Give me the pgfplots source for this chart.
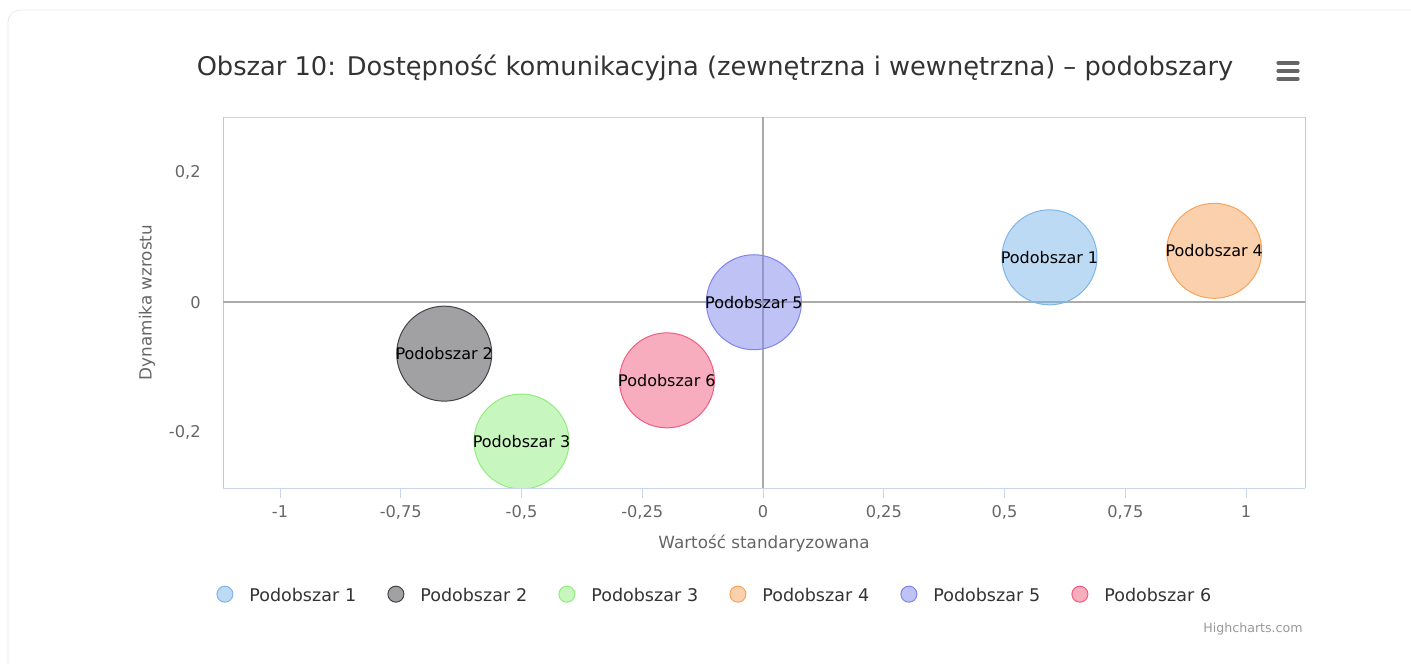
\documentclass[border=0pt]{standalone}
\usepackage{fontspec}
\setmainfont{DejaVu Sans}
\usepackage{pgfplots}
\pgfplotsset{compat=1.18}

% Highcharts default palette
\definecolor{c1}{HTML}{7CB5EC}
\definecolor{c2}{HTML}{434348}
\definecolor{c3}{HTML}{90ED7D}
\definecolor{c4}{HTML}{F7A35C}
\definecolor{c5}{HTML}{8085E9}
\definecolor{c6}{HTML}{F15C80}
\definecolor{labgray}{HTML}{666666}
\definecolor{titlegray}{HTML}{333333}
\definecolor{axisblue}{HTML}{CCD6EB}
\definecolor{bordergray}{HTML}{C8C8C8}
\definecolor{zerogray}{HTML}{ABABAB}
\definecolor{creditgray}{HTML}{999999}
\definecolor{cardgray}{HTML}{E8E8E8}

\pgfplotsset{
  bubble/.style={only marks, mark=*, mark size=23.75pt,
    mark options={draw=#1, fill=#1, fill opacity=0.5, line width=0.5pt},
    legend image code/.code={\draw[draw=#1, fill=#1, fill opacity=0.5, line width=0.5pt] (4pt,1pt) circle (4pt);}},
}

\begin{document}
\begin{tikzpicture}
% card outline
\draw[cardgray, rounded corners=6pt] (4pt,-20pt) rectangle (720pt,326.5pt);

\begin{axis}[
  at={(111.5pt,87.5pt)}, anchor=south west,
  scale only axis, width=541pt, height=185.5pt,
  xmin=-1.118, xmax=1.122, ymin=-0.2854, ymax=0.2846,
  clip marker paths=true,
  separate axis lines,
  x axis line style={draw=axisblue},
  y axis line style={draw=bordergray},
  xtick={-1,-0.75,-0.5,-0.25,0,0.25,0.5,0.75,1},
  xticklabels={-1,{-0,75},{-0,5},{-0,25},0,{0,25},{0,5},{0,75},1},
  ytick={-0.2,0,0.2},
  yticklabels={{-0,2},0,{0,2}},
  xtick pos=bottom, ytick pos=left,
  x tick style={draw=axisblue, line width=0.5pt},
  y tick style={draw=none},
  tick align=outside,
  major tick length=5pt,
  xticklabel style={font=\fontsize{8.1}{9.7}\selectfont, text=labgray, inner sep=0pt, anchor=center, yshift=-7pt},
  yticklabel style={font=\fontsize{8.1}{9.7}\selectfont, text=labgray, inner sep=0pt, anchor=east, xshift=-6pt},
  xlabel={Wartość standaryzowana},
  ylabel={Dynamika wzrostu},
  xlabel style={font=\fontsize{8.4}{10}\selectfont, text=labgray, at={(axis description cs:0.5,-0.1509)}, anchor=center},
  ylabel style={font=\fontsize{8.4}{10}\selectfont, text=labgray, at={(axis description cs:-0.0702,0.5)}, anchor=center},
  nodes near coords align=center,
  every node near coord/.append style={anchor=center, text=black, fill opacity=1, text opacity=1,
    font=\fontsize{8}{9.6}\selectfont, inner sep=0pt},
  legend columns=6,
  legend style={at={(axis description cs:-0.00647,-0.2911)}, anchor=west,
    draw=none, fill=none, inner sep=0pt,
    font=\fontsize{8.75}{10.5}\selectfont, text=titlegray,
    /tikz/every odd column/.append style={column sep=8pt},
    nodes={inner xsep=0pt, inner ysep=1pt, text width=69pt, align=left}},
]
% zero lines (under the bubbles)
\draw[zerogray, line width=1pt] (axis cs:0,-0.3) -- (axis cs:0,0.3);
\draw[zerogray, line width=1pt] (axis cs:-1.2,0) -- (axis cs:1.2,0);

\addplot[bubble=c1, nodes near coords={Podobszar 1}] coordinates {(0.593,0.069)};
\addlegendentry{Podobszar 1}
\addplot[bubble=c2, nodes near coords={Podobszar 2}] coordinates {(-0.660,-0.079)};
\addlegendentry{Podobszar 2}
\addplot[bubble=c3, nodes near coords={Podobszar 3}] coordinates {(-0.500,-0.214)};
\addlegendentry{Podobszar 3}
\addplot[bubble=c4, nodes near coords={Podobszar 4}] coordinates {(0.934,0.079)};
\addlegendentry{Podobszar 4}
\addplot[bubble=c5, nodes near coords={Podobszar 5}] coordinates {(-0.019,0.000)};
\addlegendentry{Podobszar 5}
\addplot[bubble=c6, nodes near coords={Podobszar 6}] coordinates {(-0.199,-0.120)};
\addlegendentry{Podobszar 6}
\end{axis}

% title
\node[font=\fontsize{12.85}{15.4}\selectfont, text=titlegray, anchor=center] at (357.5pt,297.5pt)
  {Obszar 10: Dostępność komunikacyjna (zewnętrzna i wewnętrzna) – podobszary};
% menu icon
\foreach \yy in {300,296,292} {
  \draw[labgray, line width=1.6pt, line cap=round] (639pt,\yy pt) -- (649pt,\yy pt);
}
% credit
\node[font=\fontsize{6.3}{7.5}\selectfont, text=creditgray, anchor=east, inner sep=0pt] at (651.5pt,17pt) {Highcharts.com};

\pgfresetboundingbox
\useasboundingbox (0,0) rectangle (705.5pt,331.5pt);
\end{tikzpicture}
\end{document}
